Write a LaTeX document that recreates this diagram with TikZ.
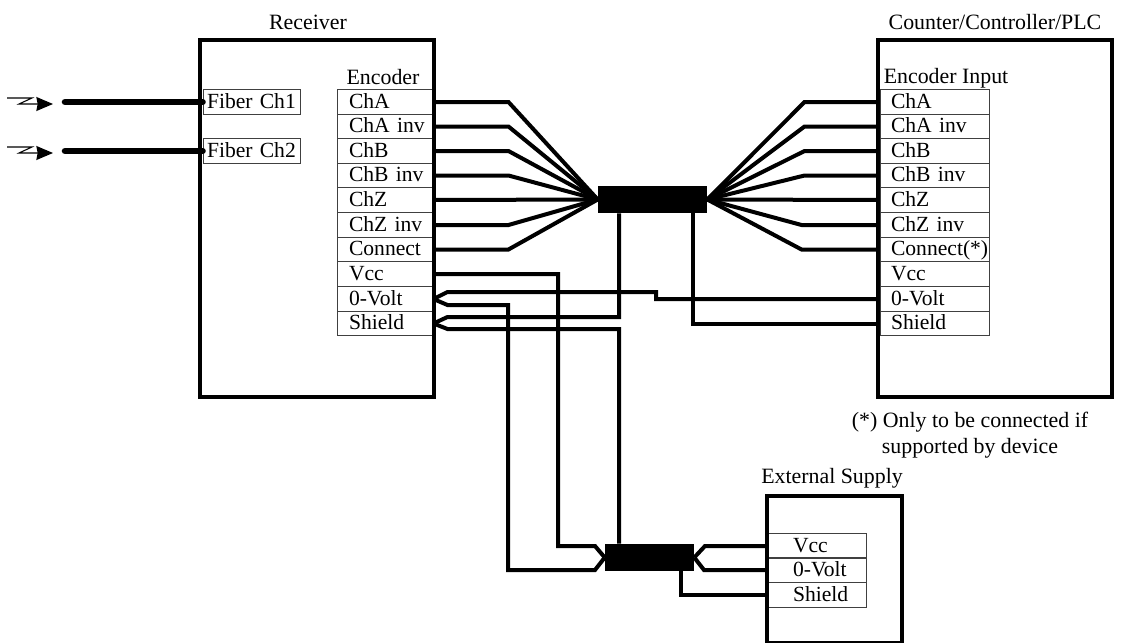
\documentclass[tikz,border=0pt]{standalone}
\usepackage{fontspec}
\setmainfont{Liberation Serif}
\usetikzlibrary{arrows.meta}
\tikzset{
	panel/.style={draw,line width=3pt,inner sep=0pt},
	label/.style={font=\fontsize{16.4}{19}\selectfont,inner sep=0pt,align=center},
	rowbox/.style={draw=black!75,line width=0.7pt,inner sep=0pt,minimum height=18.45pt,text=black,text height=12.4pt,text depth=3pt,align=left,font=\fontsize{16.2}{19}\selectfont},
	encrow/.style={rowbox,text width=72pt,execute at begin node=\hspace*{9pt}},
	inrow/.style={rowbox,text width=81.75pt,execute at begin node=\hspace*{8.25pt}},
	suprow/.style={rowbox,text width=74.25pt,execute at begin node=\hspace*{19.5pt}},
	fibrow/.style={rowbox,text width=72.75pt,execute at begin node=\hspace*{3pt}},
	wire/.style={line width=3pt,line join=miter},
	fiber/.style={line width=4.9pt,line cap=round},
	light/.style={line width=0.8pt,-{Stealth[length=12.5pt,width=10.5pt,inset=1pt]}},
	bundle/.style={fill=black,draw=none,inner sep=0pt}
}
\begin{document}
\begin{tikzpicture}[x=0.75pt,y=-0.75pt]
	\useasboundingbox (0,0) rectangle (1127,642);

	\node[label] (receiver title) at (308,22) {Receiver};
	\node[label] (counter title) at (995,22) {Counter/Controller/PLC};
	\node[label] (supply title) at (832,478) {External Supply};
	\node[label] (encoder title) at (383,77) {Encoder};
	\node[label] (input title) at (946,78) {Encoder Input};
	\node[label] (note) at (970,435) {(*) Only to be connected if\\supported by device};

	% fiber inputs
	\node[fibrow] (fiber a) at (251.5,102) {Fiber Ch1};
	\node[fibrow] (fiber b) at (251.5,151) {Fiber Ch2};

	% encoder side
	\node[encrow] (enc a) at (385,102) {ChA};
	\node[encrow] (enc ai) at (385,126.5) {ChA inv};
	\node[encrow] (enc b) at (385,151) {ChB};
	\node[encrow] (enc bi) at (385,175.5) {ChB inv};
	\node[encrow] (enc z) at (385,200) {ChZ};
	\node[encrow] (enc zi) at (385,225) {ChZ inv};
	\node[encrow] (enc con) at (385,249.5) {Connect};
	\node[encrow] (enc vcc) at (385,274) {Vcc};
	\node[encrow] (enc volt) at (385,299) {0-Volt};
	\node[encrow] (enc shield) at (385,323.5) {Shield};

	% counter side
	\node[inrow] (in a) at (934.5,102) {ChA};
	\node[inrow] (in ai) at (934.5,126.5) {ChA inv};
	\node[inrow] (in b) at (934.5,151) {ChB};
	\node[inrow] (in bi) at (934.5,175.5) {ChB inv};
	\node[inrow] (in z) at (934.5,200) {ChZ};
	\node[inrow] (in zi) at (934.5,225) {ChZ inv};
	\node[inrow] (in con) at (934.5,249.5) {Connect(*)};
	\node[inrow] (in vcc) at (934.5,274) {Vcc};
	\node[inrow] (in volt) at (934.5,299) {0-Volt};
	\node[inrow] (in shield) at (934.5,323.5) {Shield};

	% supply side
	\node[suprow] (sup vcc) at (816.5,546) {Vcc};
	\node[suprow] (sup volt) at (816.5,570) {0-Volt};
	\node[suprow] (sup shield) at (816.5,595) {Shield};

	% the three housings
	\node[panel,minimum width=175.5pt,minimum height=267.75pt] (receiver) at (317,218.5) {};
	\node[panel,minimum width=175.5pt,minimum height=267.75pt] (counter) at (995,218.5) {};
	\node[panel,minimum width=101.25pt,minimum height=110.25pt] (supply) at (834.5,569.5) {};

	% cable bundles
	\node[bundle,minimum width=81.75pt,minimum height=20.25pt] (cable top) at (652.5,199.5) {};
	\node[bundle,minimum width=66.75pt,minimum height=20.25pt] (cable low) at (649.5,557.5) {};

	% light signals and fibers
	\coordinate (light a) at (7,98);
	\coordinate (light b) at (7,147);
	\coordinate (fiber end a) at (65,102);
	\coordinate (fiber end b) at (65,151);
	\draw[light] (light a) -- ++(25,0) -- ++(-13,6) -- ++(34,0);
	\draw[light] (light b) -- ++(25,0) -- ++(-13,6) -- ++(34,0);
	\draw[fiber] (fiber end a) -- (fiber a.west);
	\draw[fiber] (fiber end b) -- (fiber b.west);

	% encoder to top cable
	\draw[wire] (enc a.east) -- ++(75,0) -- (cable top.west);
	\draw[wire] (enc ai.east) -- ++(75,0) -- (cable top.west);
	\draw[wire] (enc b.east) -- ++(75,0) -- (cable top.west);
	\draw[wire] (enc bi.east) -- ++(75,0) -- (cable top.west);
	\draw[wire] (enc z.east) -- (cable top.west);
	\draw[wire] (enc zi.east) -- ++(75,0) -- (cable top.west);
	\draw[wire] (enc con.east) -- ++(75,0) -- (cable top.west);

	% top cable to counter
	\draw[wire] (in a.west) -- ++(-75,0) -- (cable top.east);
	\draw[wire] (in ai.west) -- ++(-75,0) -- (cable top.east);
	\draw[wire] (in b.west) -- ++(-75,0) -- (cable top.east);
	\draw[wire] (in bi.west) -- ++(-75,0) -- (cable top.east);
	\draw[wire] (in z.west) -- (cable top.east);
	\draw[wire] (in zi.west) -- ++(-78,0) -- (cable top.east);
	\draw[wire] (in con.west) -- ++(-78,0) -- (cable top.east);

	% power and shield
	\draw[wire] (enc vcc.east) -- (558,274) -- (558,546) -- (595,546) -- (cable low.west);
	\draw[wire] (enc volt.east) -- ++(14,6) -- (508,305) -- (508,570) -- (595,570) -- (cable low.west);
	\draw[wire] (enc volt.east) -- ++(14,-7) -- (656,292) -- (656,299) -- (in volt.west);
	\draw[wire] (enc shield.east) -- ++(14,-6.5) -- (619,317) -- (cable top.south -| 619,0);
	\draw[wire] (enc shield.east) -- ++(14,5.5) -- (619,329) -- (cable low.north -| 619,0);
	\draw[wire] (cable top.south -| 693,0) -- (693,323.5) -- (in shield.west);
	\draw[wire] (sup vcc.west) -- (705,546) -- (cable low.east);
	\draw[wire] (sup volt.west) -- (704,570) -- (cable low.east);
	\draw[wire] (cable low.south -| 681,0) -- (681,595) -- (sup shield.west);
\end{tikzpicture}
\end{document}
